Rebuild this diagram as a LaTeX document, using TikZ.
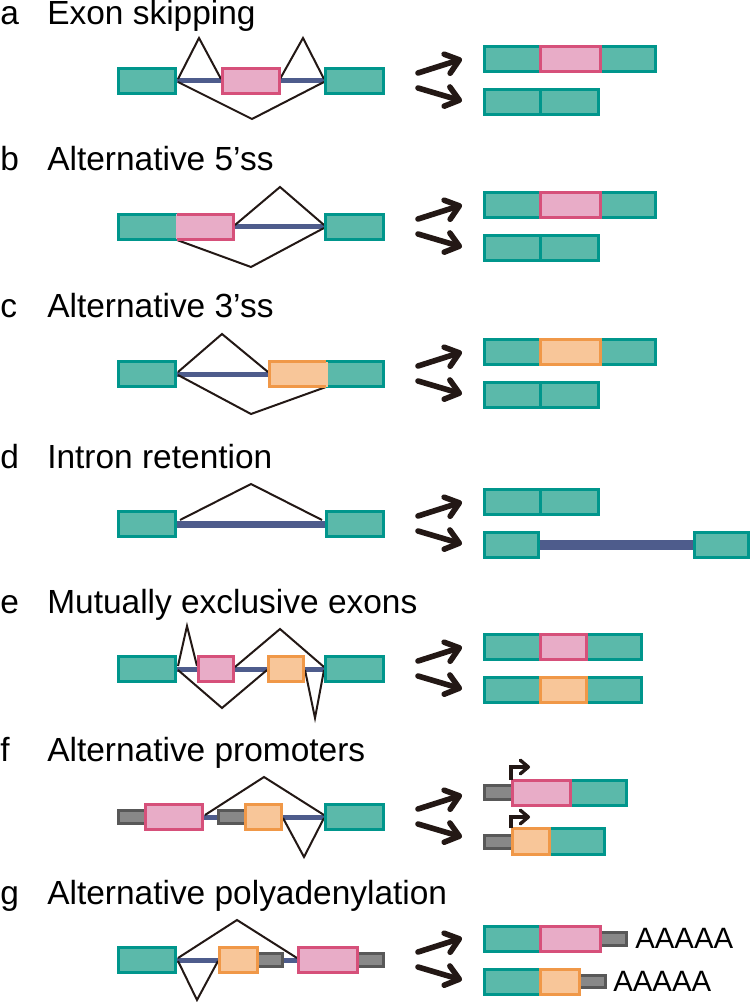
\documentclass[tikz,border=0pt]{standalone}
\usepackage{fontspec}
\setmainfont{Liberation Sans}
\usepackage{tikz}
\usetikzlibrary{arrows.meta}

\definecolor{tealfill}{HTML}{5BB9AA}
\definecolor{tealline}{HTML}{00968C}
\definecolor{pinkfill}{HTML}{E8ACC7}
\definecolor{pinkline}{HTML}{D6507A}
\definecolor{orangefill}{HTML}{F8C699}
\definecolor{orangeline}{HTML}{F09848}
\definecolor{grayfill}{HTML}{888888}
\definecolor{grayline}{HTML}{585858}
\definecolor{intronblue}{HTML}{4E5C8C}
\definecolor{darkline}{HTML}{231815}

\begin{document}
\begin{tikzpicture}[x=0.25mm,y=-0.25mm,
  exon/.style={draw=tealline,fill=tealfill,line width=0.75mm},
  pinkex/.style={draw=pinkline,fill=pinkfill,line width=0.75mm},
  orangeex/.style={draw=orangeline,fill=orangefill,line width=0.75mm},
  utr/.style={draw=grayline,fill=grayfill,line width=0.75mm},
  intron/.style={draw=intronblue,line width=1.25mm},
  splice/.style={draw=darkline,line width=0.5mm},
  fate/.style={draw=darkline,line width=1.4mm,line cap=round,
    -{Straight Barb[length=3.2mm,width=5mm,round]}},
  tss/.style={draw=darkline,line width=0.85mm,
    -{Straight Barb[length=2mm,width=3.4mm,round]}},
  title/.style={anchor=base west,inner sep=0pt,
    font=\fontsize{23.8pt}{28pt}\selectfont},
  polya/.style={anchor=base west,inner sep=0pt,
    font=\fontsize{20.9pt}{25pt}\selectfont}]
  \useasboundingbox (0,0) rectangle (751,1002);

  % panel letters and titles
  \foreach \y/\l/\t in {81/a/Exon skipping, 227/b/Alternative 5’ss,
      374/c/Alternative 3’ss, 524/d/Intron retention,
      669/e/Mutually exclusive exons, 817/f/Alternative promoters,
      960/g/Alternative polyadenylation} {
    \node[title] (lab\l) at (0,\y-56) {\l};
    \node[title] (tit\l) at (47,\y-56) {\t};
    \draw[fate] (418,\y-8) -- (462,\y-22);
    \draw[fate] (418,\y+7) -- (462,\y+20);
  }

  % a: exon skipping
  \begin{scope}[shift={(0,81)}]
    \draw[intron] (177,0) -- (324,0);
    \draw[splice] (178,-2) -- (199,-43) -- (221,-2);
    \draw[splice] (280,-2) -- (303,-43) -- (324,-2);
    \draw[splice] (178,1) -- (252,38) -- (324,1);
    \draw[exon] (118.5,-12.5) rectangle (175.5,12.5);
    \draw[pinkex] (222.5,-12.5) rectangle (279.5,12.5);
    \draw[exon] (325.5,-12.5) rectangle (383.5,12.5);
    \draw[exon] (484.5,-34.5) rectangle (655.5,-9.5);
    \draw[pinkex] (540,-34.5) rectangle (600,-9.5);
    \draw[exon] (484.5,8.5) rectangle (540,33.5);
    \draw[exon] (540,8.5) rectangle (598.5,33.5);
  \end{scope}

  % b: alternative 5' splice site
  \begin{scope}[shift={(0,227)}]
    \draw[intron] (233,0) -- (324,0);
    \draw[splice] (235,-2) -- (280,-40) -- (324,-2);
    \draw[splice] (177,13) -- (251,40) -- (324,1);
    \draw[exon] (118.5,-12.5) rectangle (177,12.5);
    \fill[pinkfill] (175.5,-12.5) rectangle (233.5,12.5);
    \draw[pinkline,line width=0.75mm] (177,-12.5) -- (233.5,-12.5)
      -- (233.5,12.5) -- (177,12.5);
    \draw[exon] (325.5,-12.5) rectangle (383.5,12.5);
    \draw[exon] (484.5,-34.5) rectangle (655.5,-9.5);
    \draw[pinkex] (540,-34.5) rectangle (600,-9.5);
    \draw[exon] (484.5,8.5) rectangle (540,33.5);
    \draw[exon] (540,8.5) rectangle (598.5,33.5);
  \end{scope}

  % c: alternative 3' splice site
  \begin{scope}[shift={(0,374)}]
    \draw[intron] (177,0) -- (269,0);
    \draw[splice] (178,-2) -- (222,-40) -- (268,-2);
    \draw[splice] (178,1) -- (251,40) -- (326,13);
    \draw[exon] (118.5,-12.5) rectangle (175.5,12.5);
    \draw[exon] (326,-12.5) rectangle (383.5,12.5);
    \fill[orangefill] (269.5,-12.5) rectangle (327.5,12.5);
    \draw[orangeline,line width=0.75mm] (326,-12.5) -- (269.5,-12.5)
      -- (269.5,12.5) -- (326,12.5);
    \draw[exon] (484.5,-34.5) rectangle (655.5,-9.5);
    \draw[orangeex] (540,-34.5) rectangle (600,-9.5);
    \draw[exon] (484.5,8.5) rectangle (540,33.5);
    \draw[exon] (540,8.5) rectangle (598.5,33.5);
  \end{scope}

  % d: intron retention
  \begin{scope}[shift={(0,524)}]
    \draw[intron,line width=1.75mm] (177,0) -- (325,0);
    \draw[splice] (180,-4) -- (251,-40) -- (322,-4);
    \draw[exon] (118.5,-12.5) rectangle (175.5,12.5);
    \draw[exon] (326.5,-12.5) rectangle (383.5,12.5);
    \draw[exon] (484.5,-34.5) rectangle (540,-9.5);
    \draw[exon] (540,-34.5) rectangle (598.5,-9.5);
    \draw[intron,line width=2.4mm] (538,21) -- (695,21);
    \draw[exon] (484.5,8.5) rectangle (538.5,33.5);
    \draw[exon] (694.5,8.5) rectangle (748.5,33.5);
  \end{scope}

  % e: mutually exclusive exons
  \begin{scope}[shift={(0,669)}]
    \draw[intron] (177,0) -- (324,0);
    \draw[splice] (178,-3) -- (187,-43) -- (197,-3);
    \draw[splice] (235,-2) -- (280,-40) -- (324,-2);
    \draw[splice] (178,1) -- (222,39) -- (267,1);
    \draw[splice] (305,1) -- (315,49) -- (324,1);
    \draw[exon] (118.5,-12.5) rectangle (175.5,12.5);
    \draw[pinkex] (198.5,-12.5) rectangle (233.5,12.5);
    \draw[orangeex] (268.5,-12.5) rectangle (303.5,12.5);
    \draw[exon] (325.5,-12.5) rectangle (383.5,12.5);
    \draw[exon] (484.5,-34.5) rectangle (641.5,-9.5);
    \draw[pinkex] (540,-34.5) rectangle (586,-9.5);
    \draw[exon] (484.5,8.5) rectangle (641.5,33.5);
    \draw[orangeex] (540,8.5) rectangle (586,33.5);
  \end{scope}

  % f: alternative promoters
  \begin{scope}[shift={(0,817)}]
    \draw[intron] (177,0) -- (324,0);
    \draw[splice] (205,-2) -- (264,-40) -- (324,-2);
    \draw[splice] (283,1) -- (304,40) -- (324,1);
    \draw[utr] (118.5,-6.5) rectangle (145,6.5);
    \draw[pinkex] (145,-12.5) rectangle (202.5,12.5);
    \draw[utr] (218.5,-6.5) rectangle (245,6.5);
    \draw[orangeex] (245,-12.5) rectangle (281.5,12.5);
    \draw[exon] (325.5,-12.5) rectangle (383.5,12.5);
    \draw[exon] (570,-36.5) rectangle (626.5,-11.5);
    \draw[utr] (484.5,-31.5) rectangle (512,-17.5);
    \draw[pinkex] (512,-36.5) rectangle (570,-11.5);
    \draw[tss] (511,-37) -- (511,-50) -- (530,-50);
    \draw[exon] (549,11.5) rectangle (604.5,37.5);
    \draw[utr] (484.5,18.5) rectangle (512,31.5);
    \draw[orangeex] (512,11.5) rectangle (549,37.5);
    \draw[tss] (511,11) -- (511,0) -- (530,0);
  \end{scope}

  % g: alternative polyadenylation
  \begin{scope}[shift={(0,960)}]
    \draw[intron] (177,0) -- (297,0);
    \draw[splice] (178,-2) -- (237,-40) -- (297,-2);
    \draw[splice] (178,1) -- (197,40) -- (218,1);
    \draw[exon] (118.5,-12.5) rectangle (175.5,12.5);
    \draw[utr] (257,-6.5) rectangle (282.5,6.5);
    \draw[orangeex] (219.5,-12.5) rectangle (257,12.5);
    \draw[utr] (357,-6.5) rectangle (383.5,6.5);
    \draw[pinkex] (298.5,-12.5) rectangle (357,12.5);
    \draw[exon] (484.5,-33.5) rectangle (540,-8.5);
    \draw[utr] (600,-27.5) rectangle (626.5,-14.5);
    \draw[pinkex] (540,-33.5) rectangle (600,-8.5);
    \node[polya] (polyA1) at (635,-12) {AAAAA};
    \draw[exon] (484.5,9.5) rectangle (540,34.5);
    \draw[utr] (579,15.5) rectangle (605.5,27.5);
    \draw[orangeex] (540,9.5) rectangle (579,34.5);
    \node[polya] (polyA2) at (613,31) {AAAAA};
  \end{scope}
\end{tikzpicture}
\end{document}
